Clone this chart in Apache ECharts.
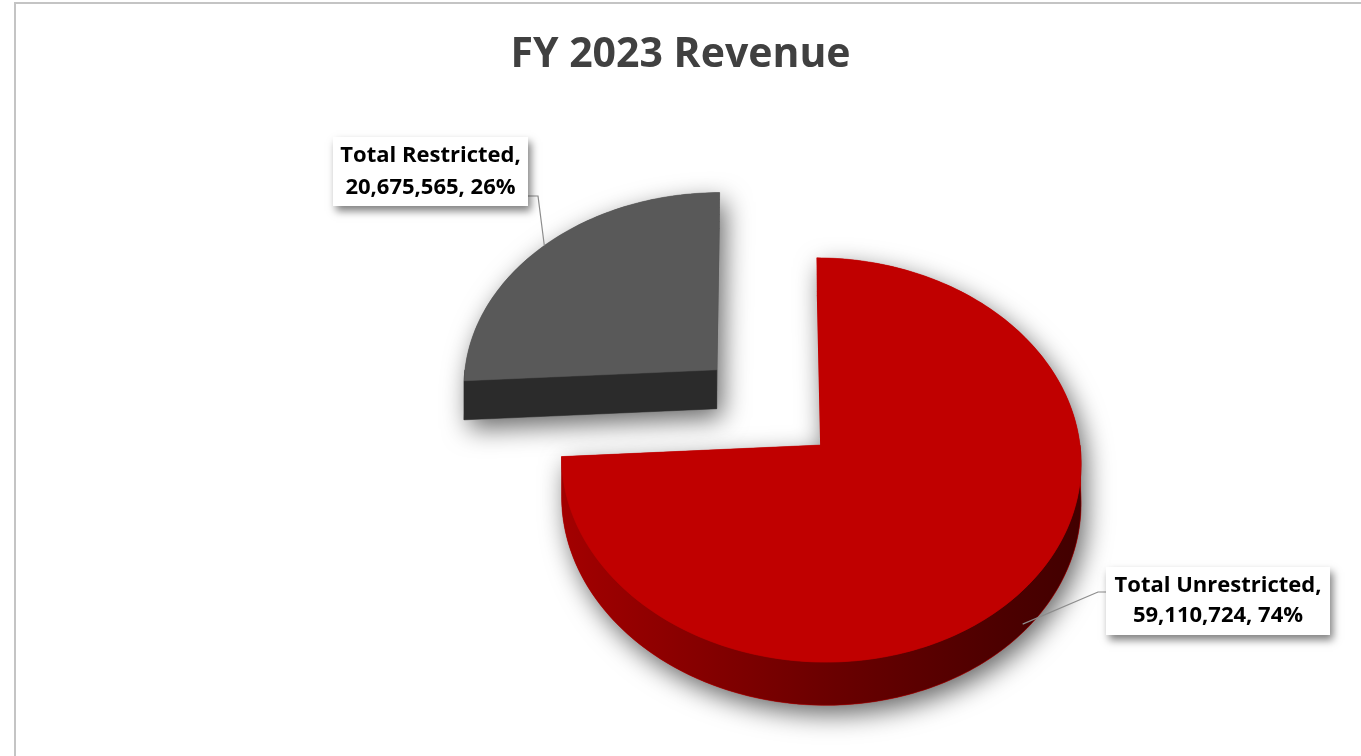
<!DOCTYPE html>
<html>
<head>
<meta charset="utf-8">
<title>FY 2023 Revenue</title>
<script src="https://cdn.jsdelivr.net/npm/echarts@6/dist/echarts.min.js"></script>
<style>
  html, body { margin: 0; padding: 0; background: #ffffff; }
  #chart { width: 1361px; height: 756px; }
</style>
</head>
<body>
<div id="chart"></div>
<script>
// Revenue split for the fiscal year
const categories = ['Total Unrestricted', 'Total Restricted'];
const revenue = [59110724, 20675565];
const chartTitle = 'FY 2023 Revenue';

const FONT = '"Open Sans", Carlito, Calibri, Lato, sans-serif';

// Tilted-disc projection: X right, Z away from viewer (disc radius = 1), H up (slab depth = 1).
// vx is the horizontal vanishing centre of the perspective.
const VIEW = { cx: 821, cy: 445, vx: 760, rx: 259, ry: 201, persp: 0.074, depth: 40 };
function project(X, Z, H) {
  const s = 1 / (1 + VIEW.persp * Z);
  return [
    VIEW.vx + (VIEW.cx - VIEW.vx + VIEW.rx * X) * s,
    VIEW.cy - (VIEW.ry * Z + VIEW.depth * H) * s
  ];
}

// Per-slice appearance
const SLICE_STYLE = [
  {
    top: '#c00000',
    wall: [[0, '#a30000'], [0.5, '#6c0000'], [0.85, '#4c0000'], [1, '#420000']],
    cut: '#7a0000',
    explode: 0,
    order: 1,
    leadH: -0.8,
    box: [1106, 567, 224, 68],
    lead: [[1106, 592], [1098, 592]],
    lineHeight: 30
  },
  {
    top: '#595959',
    wall: [[0, '#333333'], [1, '#2c2c2c']],
    cut: '#2b2b2b',
    explode: 0.56,
    order: 0,
    leadH: 0,
    box: [333, 137, 195, 69],
    lead: [[528, 196], [538, 196]],
    lineHeight: 32
  }
];

const total = revenue.reduce((a, b) => a + b, 0);
const cumStart = [];
(function () {
  let acc = 0;
  revenue.forEach(v => { cumStart.push(acc / total); acc += v; });
})();

function renderSlice(params, api) {
  const i = params.dataIndex;
  const v = api.value(0);
  const st = SLICE_STYLE[i];
  const a0 = cumStart[i] * 360;
  const a1 = a0 + v / total * 360;
  const midDeg = (a0 + a1) / 2;
  const mid = midDeg * Math.PI / 180;
  const ox = st.explode * Math.sin(mid);
  const oz = st.explode * Math.cos(mid);

  const rim = (deg, h) => {
    const t = deg * Math.PI / 180;
    return project(ox + Math.sin(t), oz + Math.cos(t), h);
  };
  const apex = h => project(ox, oz, h);
  const arc = (from, to, h) => {
    const n = Math.max(2, Math.ceil(Math.abs(to - from) / 1.2));
    const pts = [];
    for (let k = 0; k <= n; k++) pts.push(rim(from + (to - from) * k / n, h));
    return pts;
  };

  const base = 10 + st.order * 10;
  const children = [];

  // soft drop shadow of the whole solid (stacked outlines merged into one path)
  let d = '';
  const steps = 20;
  for (let j = 0; j <= steps; j++) {
    const h = -j / steps;
    const pts = [apex(h)].concat(arc(a0, a1, h));
    d += 'M' + pts.map(p => p[0].toFixed(2) + ' ' + p[1].toFixed(2)).join(' L') + ' Z ';
  }
  children.push({
    type: 'path',
    shape: { pathData: d },
    z2: 1,
    style: {
      fill: st.top,
      shadowBlur: 26,
      shadowColor: 'rgba(0,0,0,0.6)',
      shadowOffsetX: 5,
      shadowOffsetY: 9
    }
  });

  // outer curved wall (front half only)
  const lo = Math.max(a0, 90), hi = Math.min(a1, 270);
  if (hi > lo) {
    const pts = arc(lo, hi, 0).concat(arc(hi, lo, -1));
    children.push({
      type: 'polygon',
      shape: { points: pts },
      z2: base,
      style: {
        fill: { type: 'linear', x: 0, y: 0, x2: 1, y2: 0, colorStops: st.wall.map(s => ({ offset: s[0], color: s[1] })) },
        stroke: st.wall[0][1],
        lineWidth: 0.5
      }
    });
  }

  // flat cut faces that turn towards the viewer
  const cutFace = deg => ({
    type: 'polygon',
    shape: { points: [apex(0), rim(deg, 0), rim(deg, -1), apex(-1)] },
    z2: base + 1,
    style: { fill: st.cut, stroke: st.cut, lineWidth: 0.5 }
  });
  if (Math.cos((a0 - 90) * Math.PI / 180) < -0.01) children.push(cutFace(a0));
  if (Math.cos((a1 + 90) * Math.PI / 180) < -0.01) children.push(cutFace(a1));

  // top face
  children.push({
    type: 'polygon',
    shape: { points: [apex(0)].concat(arc(a0, a1, 0)) },
    z2: base + 2,
    style: { fill: st.top, stroke: st.top, lineWidth: 0.5 }
  });

  // data label with leader line
  const name = categories[i];
  const pct = Math.round(v / total * 100);
  const text = name + ',\n' + v.toLocaleString('en-US') + ', ' + pct + '%';
  const b = st.box;
  const end = rim(midDeg, st.leadH);
  children.push({
    type: 'polyline',
    shape: { points: st.lead.concat([end]) },
    z2: 40,
    style: { stroke: '#8c8c8c', lineWidth: 1.2, fill: null }
  });
  children.push({
    type: 'rect',
    shape: { x: b[0], y: b[1], width: b[2], height: b[3] },
    z2: 41,
    style: {
      fill: '#ffffff',
      shadowBlur: 8,
      shadowColor: 'rgba(0,0,0,0.5)',
      shadowOffsetX: 3,
      shadowOffsetY: 5
    }
  });
  children.push({
    type: 'text',
    x: b[0] + b[2] / 2,
    y: b[1] + b[3] / 2,
    z2: 42,
    style: {
      text: text,
      fill: '#000000',
      fontFamily: FONT,
      fontWeight: 'bold',
      fontSize: 22,
      lineHeight: st.lineHeight,
      align: 'center',
      verticalAlign: 'middle'
    }
  });

  return { type: 'group', children: children };
}

const chart = echarts.init(document.getElementById('chart'), null, { renderer: 'canvas' });
chart.setOption({
  backgroundColor: '#ffffff',
  animation: false,
  title: {
    text: chartTitle,
    left: 'center',
    top: 30,
    textStyle: { fontFamily: FONT, fontWeight: 'bold', fontSize: 41, color: '#404040' }
  },
  graphic: [{
    type: 'rect',
    shape: { x: 15, y: 3, width: 1400, height: 800 },
    style: { fill: null, stroke: '#c4c4c4', lineWidth: 2 },
    silent: true
  }],
  series: [{
    type: 'custom',
    coordinateSystem: 'none',
    renderItem: renderSlice,
    data: revenue.map((v, i) => ({ name: categories[i], value: [v] }))
  }]
});
</script>
</body>
</html>
